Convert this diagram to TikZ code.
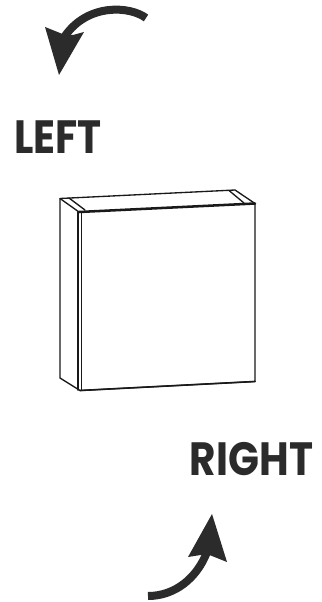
\documentclass[tikz,border=0pt]{standalone}
\usepackage{fontspec}
\setmainfont{Poppins}
\definecolor{ink}{HTML}{2B2B2B}
\tikzset{
  label text/.style={font=\fontsize{35}{35}\selectfont\bfseries, text=ink, inner sep=0pt, anchor=center, xscale=0.87, transform shape},
  edge thin/.style={line width=1pt, line join=round, line cap=round, draw=black!90},
  edge thick/.style={line width=1.9pt, line cap=round, draw=black!90},
  arrow shaft/.style={line width=6pt, draw=ink},
  arrow head/.style={fill=ink, draw=none}
}
\begin{document}
\begin{tikzpicture}[x=0.75pt,y=-0.75pt]
\useasboundingbox (0,0) rectangle (321,602);
\fill[white] (0,0) rectangle (321,602);
% labels
\node[label text] (left) at (58,137) {LEFT};
\node[label text] (right) at (251.5,459) {RIGHT};
% cabinet
\coordinate (bl) at (60,198.5);
\coordinate (br) at (235,190);
\coordinate (fr) at (255,203.5);
\coordinate (fl) at (79,212);
\coordinate (sb) at (60,378);
\coordinate (fb) at (80,390.5);
\coordinate (rb) at (255,381.5);
\draw[edge thin] (bl) -- (br) -- (fr) -- (rb) -- (fb) -- (sb) -- cycle;
\draw[edge thin] (bl) -- (fl);
\draw[edge thin] (69,198) -- (85,210);
\draw[edge thin] (229,190.5) -- (244,203);
\draw[edge thick] (79,212) -- (fr);
\draw[edge thick, line width=1.4pt] (78,212) -- (78,390);
\draw[edge thin] (81.5,212) -- (81.5,390.5);
\draw[edge thick, line width=1.2pt] (80,390.5) -- (rb);
% left arrow
\draw[arrow shaft] (146,18) .. controls (130,6) and (88,3) .. (65,36);
\fill[arrow head] (45,27) -- (59,75) -- (84,32) -- (73,35) -- (65,35) -- cycle;
% right arrow
\draw[arrow shaft] (148,596) .. controls (175,596) and (197,578) .. (207,552);
\fill[arrow head] (212,514) -- (188,557) -- (207,554) -- (227,562) -- cycle;
\end{tikzpicture}
\end{document}
